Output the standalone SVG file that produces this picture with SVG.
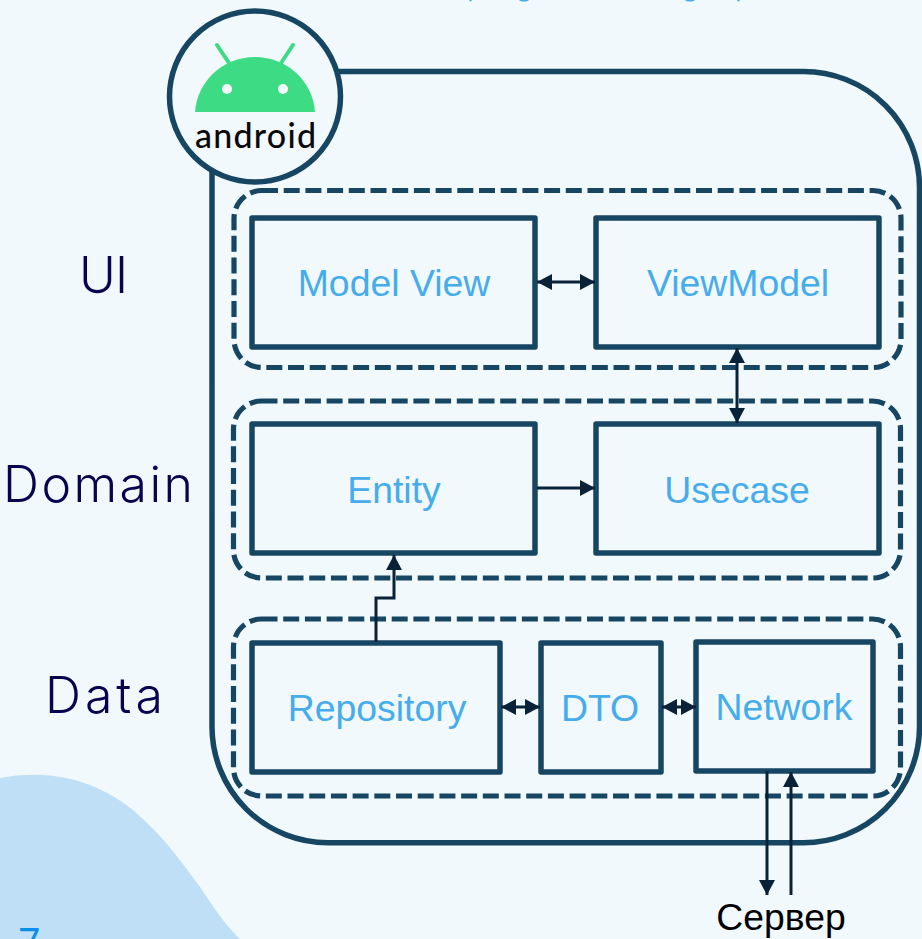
<svg xmlns="http://www.w3.org/2000/svg" width="922" height="939" viewBox="0 0 922 939">
<style>
.box{fill:none;stroke:#174663;stroke-width:5.5;stroke-linejoin:round}
.dash{fill:none;stroke:#174663;stroke-width:5.2;stroke-dasharray:16 5.7}
.outer{fill:none;stroke:#174663;stroke-width:5.5}
.lbl{font-family:"Liberation Sans",Arial,sans-serif;font-size:37.4px;fill:#46acec;text-anchor:middle}
.side{font-family:"Inter","Lato",sans-serif;font-size:50px;font-weight:300;fill:#06034f}
.c{fill:none;stroke:#0a2238;stroke-width:3}
</style>
<defs>
<marker id="a" markerUnits="userSpaceOnUse" markerWidth="16" markerHeight="16" refX="15" refY="8" orient="auto-start-reverse"><path d="M0 0L15 8L0 16Z" fill="#0a2238"/></marker>
</defs>
<rect width="922" height="939" fill="#f1f9fd"/>
<path id="title-edge" d="M469 0h3l-1 1.5h-1ZM519 0h10c-2 2-8 2-10 0ZM685 0h10c-2 2-8 2-10 0ZM737 0h3l-1 1.5h-1Z" fill="#46acec"/>
<path id="blob" d="M0 778C40 770 90 775 133 810C165 838 180 860 200 887C212 905 225 925 240 939H0Z" fill="#bedff6"/>
<text x="29" y="956" font-family="Lato,sans-serif" font-size="38" fill="#0a8ee8" text-anchor="middle">7</text>
<path id="frame" class="outer" d="M300 71.5H803A116 116 0 0 1 919.5 188V727A116 116 0 0 1 803 842.7H328A116 116 0 0 1 212 727V170"/>
<g id="ui-layer"><rect class="dash" x="234" y="190.5" width="667" height="177" rx="28"/><text class="side" x="79" y="293" textLength="49">UI</text></g>
<g id="domain-layer"><rect class="dash" x="233.500" y="401" width="667" height="177" rx="28"/><text class="side" x="3" y="502" textLength="190">Domain</text></g>
<g id="data-layer"><rect class="dash" x="233.500" y="619" width="667" height="177" rx="28"/><text class="side" x="45" y="713" textLength="118">Data</text></g>
<g id="model-view"><rect class="box" x="252" y="218" width="283" height="129"/><text class="lbl" x="394" y="296">Model View</text></g>
<g id="viewmodel"><rect class="box" x="596" y="218" width="283" height="129"/><text class="lbl" x="738" y="296">ViewModel</text></g>
<g id="entity"><rect class="box" x="252" y="424" width="283" height="129"/><text class="lbl" x="394" y="503">Entity</text></g>
<g id="usecase"><rect class="box" x="596" y="424" width="283" height="129"/><text class="lbl" x="737" y="503">Usecase</text></g>
<g id="repository"><rect class="box" x="252" y="643" width="248" height="129"/><text class="lbl" x="377" y="721">Repository</text></g>
<g id="dto"><rect class="box" x="541" y="643" width="120" height="129"/><text class="lbl" x="600" y="721">DTO</text></g>
<g id="network"><rect class="box" x="696" y="642" width="177" height="129"/><text class="lbl" x="784" y="720">Network</text></g>
<g id="connectors">
<path class="c" d="M537 282H595" marker-start="url(#a)" marker-end="url(#a)"/>
<path class="c" d="M737 348V423" marker-start="url(#a)" marker-end="url(#a)"/>
<path class="c" d="M537 488H595" marker-end="url(#a)"/>
<path class="c" d="M376 642V598H394V555" marker-end="url(#a)"/>
<path class="c" d="M501 707H540" marker-start="url(#a)" marker-end="url(#a)"/>
<path class="c" d="M662 707H696" marker-start="url(#a)" marker-end="url(#a)"/>
<path class="c" d="M767 771V895" marker-end="url(#a)"/>
<path class="c" d="M791 895V772" marker-end="url(#a)"/>
</g>
<g id="android"><circle cx="255" cy="96.500" r="85.500" fill="#f1f9fd" stroke="#174663" stroke-width="5.500"/>
<path d="M195 112C197 82 222 57 255 57C288 57 313 82 315 112Z" fill="#3ddc84"/>
<path d="M217 45L229 63M293 45L281 63" stroke="#3ddc84" stroke-width="4" stroke-linecap="round"/>
<circle cx="227" cy="89" r="5" fill="#f1f9fd"/><circle cx="283" cy="89" r="5" fill="#f1f9fd"/>
<text x="195" y="148" textLength="121" font-family="Lato,sans-serif" font-size="34" font-weight="500" fill="#0a0a0a">android</text></g>
<g id="server"><text x="781" y="930" font-family="Liberation Sans,Arial,sans-serif" font-size="37.300" fill="#000" text-anchor="middle">Сервер</text></g>
</svg>
